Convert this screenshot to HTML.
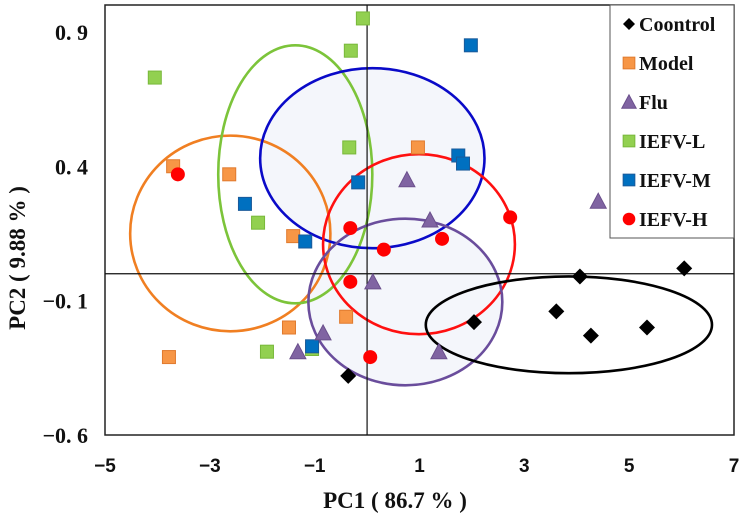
<!DOCTYPE html>
<html><head><meta charset="utf-8"><style>
html,body{margin:0;padding:0;background:#fff;}
svg{display:block;}
</style></head><body>
<svg id="chart" width="742" height="518" xmlns="http://www.w3.org/2000/svg">
<g id="ells"></g><g id="axes"></g><g id="marks"></g><g id="legend"></g>
</svg>
<script>
const xTicks=[-5,-3,-1,1,3,5,7];
const yTicks=[-0.6,-0.1,0.4,0.9];
const yTickLabels=["\u22120. 6","\u22120. 1","0. 4","0. 9"];
const ctrlX=[-0.36,2.04,3.61,4.06,4.27,5.34,6.05];
const ctrlY=[-0.38,-0.18,-0.14,-0.01,-0.23,-0.20,0.02];
const modelX=[-3.70,-2.63,-1.41,-1.49,-3.78,-0.40,0.97];
const modelY=[0.40,0.37,0.14,-0.20,-0.31,-0.16,0.47];
const fluX=[-1.32,-0.84,0.11,0.76,1.20,1.37,4.41];
const fluY=[-0.29,-0.22,-0.03,0.35,0.20,-0.29,0.27];
const lX=[-4.05,-0.31,-0.08,-0.34,-2.08,-1.91,-1.05];
const lY=[0.73,0.83,0.95,0.47,0.19,-0.29,-0.28];
const mX=[-2.33,-1.18,-0.17,-1.05,1.98,1.74,1.83];
const mY=[0.26,0.12,0.34,-0.27,0.85,0.44,0.41];
const hX=[-3.61,-0.32,-0.32,0.06,0.32,1.43,2.73];
const hY=[0.37,0.17,-0.03,-0.31,0.09,0.13,0.21];
const ellCx=[-2.61,-1.37,0.10,0.99,0.73,3.85];
const ellCy=[0.15,0.37,0.43,0.11,-0.105,-0.19];
const ellRx=[1.91,1.47,2.14,1.83,1.85,2.73];
const ellRy=[0.364,0.48,0.335,0.335,0.31,0.18];
const ellNames=["ellipse-model","ellipse-iefv-l","ellipse-iefv-m","ellipse-iefv-h","ellipse-flu","ellipse-control"];
const ellColors=["#f07f22","#7cc43a","#0a0ac8","#ff1010","#6a4d9c","#000"];
const ellFills=["none","none","#f4f6fb","none","#f4f6fb","none"];
const legendLabels=["Coontrol","Model","Flu","IEFV-L","IEFV-M","IEFV-H"];

const L=105,R=734,T=5,B=435,XMIN=-5,XMAX=7,YMIN=-0.6,YMAX=1.0;
const sx=v=>L+(v-XMIN)/(XMAX-XMIN)*(R-L);
const sy=v=>B-(v-YMIN)/(YMAX-YMIN)*(B-T);
const NS="http://www.w3.org/2000/svg";
function mk(tag,attrs,parent){const e=document.createElementNS(NS,tag);for(const k in attrs)e.setAttribute(k,attrs[k]);parent.appendChild(e);return e;}
const ells=document.getElementById('ells'),axes=document.getElementById('axes'),marks=document.getElementById('marks'),leg=document.getElementById('legend');

[2,4,0,1,3,5].forEach(i=>{
  if(ellFills[i]==="none")return;
  const e=mk('ellipse',{cx:sx(ellCx[i]),cy:sy(ellCy[i]),rx:ellRx[i]/(XMAX-XMIN)*(R-L),ry:ellRy[i]/(YMAX-YMIN)*(B-T),fill:ellFills[i],stroke:'none'},ells);
  
  
});
let f=mk('rect',{x:L,y:T,width:R-L,height:B-T,fill:'none',stroke:'#222','stroke-width':1.5},axes);

let zx=mk('line',{x1:sx(0),x2:sx(0),y1:T,y2:B,stroke:'#111','stroke-width':1.2},axes);

let zy=mk('line',{x1:L,x2:R,y1:sy(0),y2:sy(0),stroke:'#111','stroke-width':1.2},axes);

xTicks.forEach(v=>{const t=mk('text',{x:sx(v),y:472,'text-anchor':'middle','font-family':'Liberation Sans, sans-serif','font-weight':'bold','font-size':19,fill:'#111'},axes);t.textContent=(v<0?'\u2212'+(-v):v);
});
yTicks.forEach((v,i)=>{const t=mk('text',{x:88,y:sy(v)+8,'text-anchor':'end','font-family':'Liberation Serif, serif','font-weight':'bold','font-size':22,fill:'#111'},axes);t.textContent=yTickLabels[i];
});
let xt=mk('text',{x:395,y:508,'text-anchor':'middle','font-family':'Liberation Serif, serif','font-weight':'bold','font-size':23,fill:'#111'},axes);xt.textContent='PC1 ( 86.7 % )';

let yt=mk('text',{x:0,y:0,'text-anchor':'middle','font-family':'Liberation Serif, serif','font-weight':'bold','font-size':23,fill:'#111',transform:'translate(25,258) rotate(-90)'},axes);yt.textContent='PC2 ( 9.88 % )';


[0,1,2,3,4,5].forEach(i=>{
  const e=mk('ellipse',{cx:sx(ellCx[i]),cy:sy(ellCy[i]),rx:ellRx[i]/(XMAX-XMIN)*(R-L),ry:ellRy[i]/(YMAX-YMIN)*(B-T),fill:'none',stroke:ellColors[i],'stroke-width':2.6},ells);
  
  
});

function marker(type,x,y,parent,s){
  s=s||1;
  if(type==='diamond')return mk('polygon',{points:`${x},${y-8*s} ${x+8*s},${y} ${x},${y+8*s} ${x-8*s},${y}`,fill:'#000'},parent);
  if(type==='tri')return mk('polygon',{points:`${x},${y-8*s} ${x+8*s},${y+7*s} ${x-8*s},${y+7*s}`,fill:'#8064a2',stroke:'#6a4f8c','stroke-width':1},parent);
  if(type==='circle')return mk('circle',{cx:x,cy:y,r:7*s,fill:'#ff0000'},parent);
  const c={orange:['#f79646','#e07a2e'],green:['#92d050','#78b83a'],blue:['#0070c0','#1a5a9a']}[type];
  return mk('rect',{x:x-6.5*s,y:y-6.5*s,width:13*s,height:13*s,fill:c[0],stroke:c[1],'stroke-width':1},parent);
}
const series=[
 ['model','orange',modelX,modelY],['iefv-l','green',lX,lY],['iefv-m','blue',mX,mY],
 ['flu','tri',fluX,fluY],['iefv-h','circle',hX,hY],['control','diamond',ctrlX,ctrlY]];
series.forEach(([n,t,xs,ys])=>{xs.forEach((v,i)=>{const m=marker(t,sx(v),sy(ys[i]),marks);

});});

let lb=mk('rect',{x:610,y:5,width:124,height:233,fill:'#fff',stroke:'#555','stroke-width':1},leg);

const legTypes=['diamond','orange','tri','green','blue','circle'];
legendLabels.forEach((lab,i)=>{const y=24+i*39;
 const g=mk('g',{},leg);
 
 
 marker(legTypes[i],629,y,g,legTypes[i]==='diamond'?0.75:(legTypes[i]==='circle'?0.9:0.9));
 const t=mk('text',{x:639,y:y+7,'font-family':'Liberation Serif, serif','font-weight':'bold','font-size':20,fill:'#111'},g);t.textContent=lab;});
</script>
</body></html>
